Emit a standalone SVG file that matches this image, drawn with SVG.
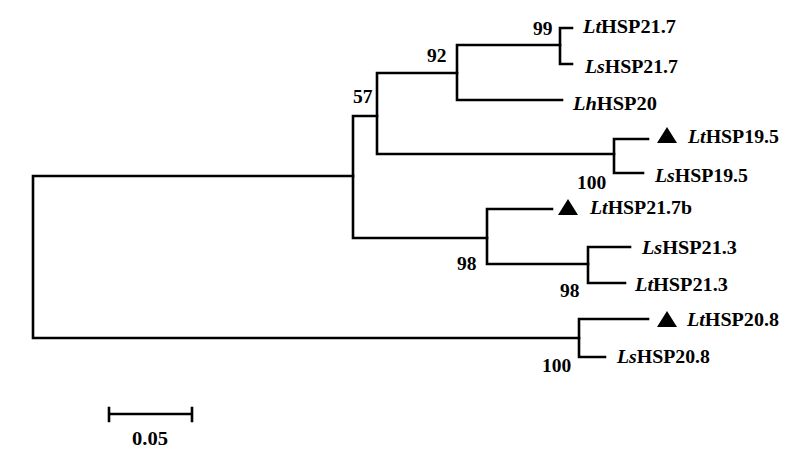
<svg xmlns="http://www.w3.org/2000/svg" width="799" height="462" viewBox="0 0 799 462">
<style>
.br{fill:none;stroke:#000;stroke-width:2.6;stroke-linecap:square;stroke-linejoin:miter}
text{font-family:"Liberation Serif","Times New Roman",serif;font-weight:bold;font-size:19.5px;fill:#000}
.i{font-style:italic}
.tri{fill:#000}
</style>
<rect width="799" height="462" fill="#fff"/>
<g id="connectors">
<path class="br" d="M33,176 V338 M33,176 H353 M33,338 H579"/>
<path class="br" d="M353,116 V238 M353,116 H377 M353,238 H487"/>
<path class="br" d="M377,73 V154 M377,73 H457 M377,154 H614"/>
<path class="br" d="M457,45 V100 M457,45 H560 M457,100 H562"/>
<path class="br" d="M560,28 V64 M560,28 H572 M560,64 H572"/>
<path class="br" d="M614,139 V173 M614,139 H648 M614,173 H643"/>
<path class="br" d="M487,209 V264 M487,209 H552 M487,264 H588"/>
<path class="br" d="M588,247 V283 M588,247 H630 M588,283 H625"/>
<path class="br" d="M579,319 V357 M579,319 H648 M579,357 H605"/>
</g>
<g id="bootstrap">
<text x="533" y="35">99</text>
<text x="427" y="62">92</text>
<text x="353" y="103">57</text>
<text x="577" y="189">100</text>
<text x="457" y="270">98</text>
<text x="560" y="297">98</text>
<text x="542" y="372">100</text>
</g>
<g id="LtHSP21.7"><text x="583" y="33" textLength="93" lengthAdjust="spacingAndGlyphs"><tspan class="i">Lt</tspan>HSP21.7</text></g>
<g id="LsHSP21.7"><text x="585" y="73" textLength="93" lengthAdjust="spacingAndGlyphs"><tspan class="i">Ls</tspan>HSP21.7</text></g>
<g id="LhHSP20"><text x="573" y="110" textLength="84" lengthAdjust="spacingAndGlyphs"><tspan class="i">Lh</tspan>HSP20</text></g>
<g id="LtHSP19.5"><polygon class="tri" points="657,143 677,143 667,127"/><text x="688" y="143" textLength="91" lengthAdjust="spacingAndGlyphs"><tspan class="i">Lt</tspan>HSP19.5</text></g>
<g id="LsHSP19.5"><text x="655" y="182" textLength="93" lengthAdjust="spacingAndGlyphs"><tspan class="i">Ls</tspan>HSP19.5</text></g>
<g id="LtHSP21.7b"><polygon class="tri" points="558,215 578,215 568,199"/><text x="590" y="214" textLength="102" lengthAdjust="spacingAndGlyphs"><tspan class="i">Lt</tspan>HSP21.7b</text></g>
<g id="LsHSP21.3"><text x="642" y="254" textLength="95" lengthAdjust="spacingAndGlyphs"><tspan class="i">Ls</tspan>HSP21.3</text></g>
<g id="LtHSP21.3"><text x="635" y="291" textLength="93" lengthAdjust="spacingAndGlyphs"><tspan class="i">Lt</tspan>HSP21.3</text></g>
<g id="LtHSP20.8"><polygon class="tri" points="657,327 677,327 667,311"/><text x="687" y="326" textLength="92" lengthAdjust="spacingAndGlyphs"><tspan class="i">Lt</tspan>HSP20.8</text></g>
<g id="LsHSP20.8"><text x="617" y="363" textLength="93" lengthAdjust="spacingAndGlyphs"><tspan class="i">Ls</tspan>HSP20.8</text></g>
<g id="scale">
<path class="br" d="M109,414 H192 M109,408 V421 M192,408 V421"/>
<text x="132" y="445" textLength="36" lengthAdjust="spacingAndGlyphs">0.05</text>
</g>
</svg>
